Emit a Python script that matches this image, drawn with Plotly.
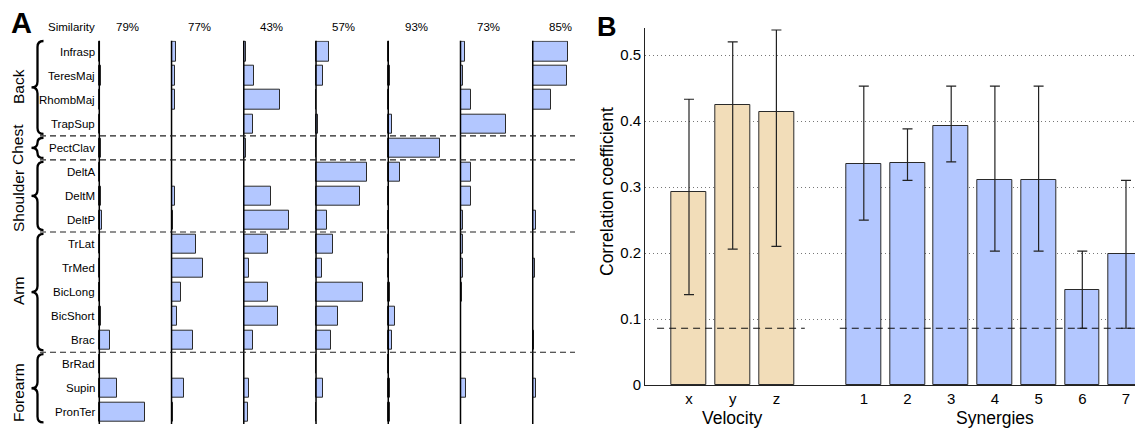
import plotly.graph_objects as go

W, H = 1135, 428
FONT = "Liberation Sans, Arial, Helvetica, sans-serif"
BLUE = "#b3c7ff"
TAN = "#f2ddb9"
EDGE = "#2a2a2a"


def px(x):
    return x / W


def py(y):
    return 1 - y / H


# ---------------- Panel A: muscle weights of the seven synergies ----------------
MUSCLES = ["Infrasp", "TeresMaj", "RhombMaj", "TrapSup", "PectClav", "DeltA", "DeltM",
           "DeltP", "TrLat", "TrMed", "BicLong", "BicShort", "Brac", "BrRad", "Supin", "PronTer"]
GROUPS = [("Back", 0, 3), ("Chest", 4, 4), ("Shoulder", 5, 7), ("Arm", 8, 12), ("Forearm", 13, 15)]
SIMILARITY = [79, 77, 43, 57, 93, 73, 85]

W_SYN1 = [0.01, 0.04, 0.01, 0.02, 0.025, 0.01, 0.025, 0.045, 0.0, 0.02, 0.0, 0.025, 0.20, 0.0, 0.35, 0.88]
W_SYN2 = [0.083, 0.058, 0.058, 0.01, 0.0, 0.0, 0.058, 0.025, 0.48, 0.61, 0.19, 0.115, 0.41, 0.0, 0.25, 0.033]
W_SYN3 = [0.045, 0.19, 0.71, 0.17, 0.04, 0.0, 0.52, 0.88, 0.46, 0.11, 0.465, 0.665, 0.17, 0.01, 0.097, 0.072]
W_SYN4 = [0.245, 0.135, 0.0, 0.033, 0.0, 0.995, 0.85, 0.21, 0.335, 0.115, 0.915, 0.42, 0.285, 0.0, 0.135, 0.0]
W_SYN5 = [0.014, 0.033, 0.01, 0.072, 1.0, 0.23, 0.0, 0.0, 0.02, 0.02, 0.04, 0.135, 0.078, 0.0, 0.04, 0.04]
W_SYN6 = [0.078, 0.04, 0.2, 0.88, 0.0, 0.2, 0.195, 0.04, 0.05, 0.045, 0.025, 0.01, 0.01, 0.0, 0.115, 0.01]
W_SYN7 = [0.685, 0.655, 0.345, 0.0, 0.0, 0.01, 0.01, 0.065, 0.0, 0.052, 0.0, 0.0, 0.025, 0.0, 0.072, 0.0]
WEIGHTS = [W_SYN1, W_SYN2, W_SYN3, W_SYN4, W_SYN5, W_SYN6, W_SYN7]
COL_STEP = 1.4  # horizontal offset between synergy columns (weight units)

# ---------------- Panel B: correlation with velocity / synergies ----------------
VEL_LABELS = ["x", "y", "z"]
VEL_MEAN = [0.292, 0.425, 0.413]
VEL_LO = [0.137, 0.206, 0.210]
VEL_HI = [0.433, 0.520, 0.538]
SYN_LABELS = ["1", "2", "3", "4", "5", "6", "7"]
SYN_MEAN = [0.335, 0.336, 0.392, 0.311, 0.311, 0.144, 0.198]
SYN_LO = [0.250, 0.310, 0.338, 0.203, 0.203, 0.086, 0.086]
SYN_HI = [0.453, 0.388, 0.453, 0.453, 0.453, 0.203, 0.310]
CHANCE = 0.086

VEL_POS = [1, 2, 3]
SYN_POS = [5, 6, 7, 8, 9, 10, 11]

fig = go.Figure()

rows = list(range(len(MUSCLES)))
for k, w in enumerate(WEIGHTS):
    fig.add_trace(go.Bar(
        x=w, y=rows, base=k * COL_STEP, orientation="h", width=0.8,
        marker=dict(color=BLUE, line=dict(color=EDGE, width=1)),
        xaxis="x", yaxis="y", showlegend=False, hoverinfo="skip",
    ))

fig.add_trace(go.Bar(
    x=VEL_POS, y=VEL_MEAN, width=0.8,
    marker=dict(color=TAN, line=dict(color=EDGE, width=1)),
    error_y=dict(type="data", symmetric=False,
                 array=[h - m for h, m in zip(VEL_HI, VEL_MEAN)],
                 arrayminus=[m - l for m, l in zip(VEL_MEAN, VEL_LO)],
                 color="#222", thickness=1.2, width=5),
    xaxis="x2", yaxis="y2", showlegend=False,
))
fig.add_trace(go.Bar(
    x=SYN_POS, y=SYN_MEAN, width=0.8,
    marker=dict(color=BLUE, line=dict(color=EDGE, width=1)),
    error_y=dict(type="data", symmetric=False,
                 array=[h - m for h, m in zip(SYN_HI, SYN_MEAN)],
                 arrayminus=[m - l for m, l in zip(SYN_MEAN, SYN_LO)],
                 color="#222", thickness=1.2, width=5),
    xaxis="x2", yaxis="y2", showlegend=False,
))
# chance level for each group of bars
for xs in ([0.27, 3.65], [4.45, 12.0]):
    fig.add_trace(go.Scatter(
        x=xs, y=[CHANCE, CHANCE], mode="lines",
        line=dict(color="#111", width=1.1, dash="7px,5px"),
        xaxis="x2", yaxis="y2", showlegend=False, hoverinfo="skip",
    ))

shapes = []
annotations = []

# column baselines
for k in range(len(WEIGHTS)):
    shapes.append(dict(type="line", xref="x", yref="y domain", x0=k * COL_STEP, x1=k * COL_STEP,
                       y0=0, y1=1, line=dict(color="black", width=1.5)))
# group separators
for g in GROUPS[1:]:
    yb = g[1] - 0.5
    shapes.append(dict(type="line", xref="x domain", yref="y", x0=0, x1=1, y0=yb, y1=yb,
                       line=dict(color="#222", width=1.1, dash="6px,4px")))

ROW0, ROWH = 51.7, 24.04


def row_px(r):
    return ROW0 + r * ROWH


def brace(y0, y1, xe=43.5, xs=37.5, xt=31.5, r=6.0):
    ym = (y0 + y1) / 2
    pts = [
        f"M {px(xe)},{py(y0)}",
        f"Q {px(xs)},{py(y0)} {px(xs)},{py(y0 + r)}",
        f"L {px(xs)},{py(ym - r)}",
        f"Q {px(xs)},{py(ym)} {px(xt)},{py(ym)}",
        f"Q {px(xs)},{py(ym)} {px(xs)},{py(ym + r)}",
        f"L {px(xs)},{py(y1 - r)}",
        f"Q {px(xs)},{py(y1)} {px(xe)},{py(y1)}",
    ]
    return " ".join(pts)


LABEL_Y = {"Back": 87, "Chest": 145, "Shoulder": 201, "Arm": 291, "Forearm": 393}
for name, r0, r1 in GROUPS:
    top = row_px(r0 - 0.42) if r0 > 0 else 41
    bot = row_px(r1 + 0.42)
    r = min(6.0, (bot - top) / 4)
    shapes.append(dict(type="path", xref="paper", yref="paper", path=brace(top, bot, r=r),
                       line=dict(color="black", width=2.3)))
    annotations.append(dict(text=name, xref="paper", yref="paper", x=px(18),
                            y=py(LABEL_Y[name]), textangle=-90, showarrow=False,
                            xanchor="center", yanchor="middle",
                            font=dict(family=FONT, size=15.5, color="black")))

for i, m in enumerate(MUSCLES):
    annotations.append(dict(text=m, xref="paper", yref="y", x=px(96.5), y=i, xanchor="right",
                            yanchor="middle", showarrow=False,
                            font=dict(family=FONT, size=11.5, color="black")))

annotations.append(dict(text="Similarity", xref="paper", yref="paper", x=px(71), y=py(27),
                        showarrow=False, xanchor="center", yanchor="middle",
                        font=dict(family=FONT, size=11.5, color="black")))
for k, s in enumerate(SIMILARITY):
    annotations.append(dict(text=f"{s}%", xref="x", yref="paper", x=k * COL_STEP + 0.54, y=py(27),
                            showarrow=False, xanchor="center", yanchor="middle",
                            font=dict(family=FONT, size=11.5, color="black")))

# panel letters
annotations.append(dict(text="<b>A</b>", xref="paper", yref="paper", x=px(21), y=py(23),
                        showarrow=False, xanchor="center", yanchor="middle",
                        font=dict(family=FONT, size=29, color="black")))
annotations.append(dict(text="<b>B</b>", xref="paper", yref="paper", x=px(607), y=py(27),
                        showarrow=False, xanchor="center", yanchor="middle",
                        font=dict(family=FONT, size=27, color="black")))

# panel B titles
annotations.append(dict(text="Correlation coefficient", xref="paper", yref="paper", x=px(607),
                        y=py(192), textangle=-90, showarrow=False, xanchor="center",
                        yanchor="middle", font=dict(family=FONT, size=17.5, color="black")))
annotations.append(dict(text="Velocity", xref="x2", yref="paper", x=2, y=py(418),
                        showarrow=False, xanchor="center", yanchor="middle",
                        font=dict(family=FONT, size=17.5, color="black")))
annotations.append(dict(text="Synergies", xref="x2", yref="paper", x=8, y=py(418),
                        showarrow=False, xanchor="center", yanchor="middle",
                        font=dict(family=FONT, size=17.5, color="black")))

# panel A axes (pixels 40..575 horizontally, 40.7..424 vertically)
XPX_PER_UNIT = 72.24 / COL_STEP
x_left = (40 - 99.3) / XPX_PER_UNIT
x_right = (575 - 99.3) / XPX_PER_UNIT
y_top = -(ROW0 - 40.7) / ROWH
y_bot = (424 - ROW0) / ROWH

fig.update_layout(
    template="none",
    width=W, height=H, autosize=False,
    margin=dict(l=0, r=0, t=0, b=0, pad=0),
    paper_bgcolor="white", plot_bgcolor="white",
    barmode="overlay", bargap=0,
    font=dict(family=FONT, color="black"),
    xaxis=dict(domain=[px(40), px(575)], range=[x_left, x_right], visible=False,
               automargin=False),
    yaxis=dict(domain=[py(424), py(40.7)], range=[y_bot, y_top], visible=False,
               automargin=False),
    xaxis2=dict(domain=[px(645.3), 1.0], range=[0, (W - 645.3) / 43.7], anchor="y2",
                tickvals=VEL_POS + SYN_POS, ticktext=VEL_LABELS + SYN_LABELS,
                showline=True, linecolor="#222", linewidth=1.2, ticks="",
                showgrid=False, zeroline=False, automargin=False,
                tickfont=dict(size=15, family=FONT, color="black")),
    yaxis2=dict(domain=[py(385), py(28)], range=[0, 0.541], anchor="x2",
                tickvals=[0, 0.1, 0.2, 0.3, 0.4, 0.5],
                ticktext=["0", "0.1", "0.2", "0.3", "0.4", "0.5"],
                showline=True, linecolor="#222", linewidth=1.2, ticks="",
                showgrid=True, gridcolor="#777", gridwidth=1, griddash="1px,3px",
                zeroline=False, automargin=False,
                tickfont=dict(size=15, family=FONT, color="black")),
    shapes=shapes,
    annotations=annotations,
)

fig.write_html("out.html")
